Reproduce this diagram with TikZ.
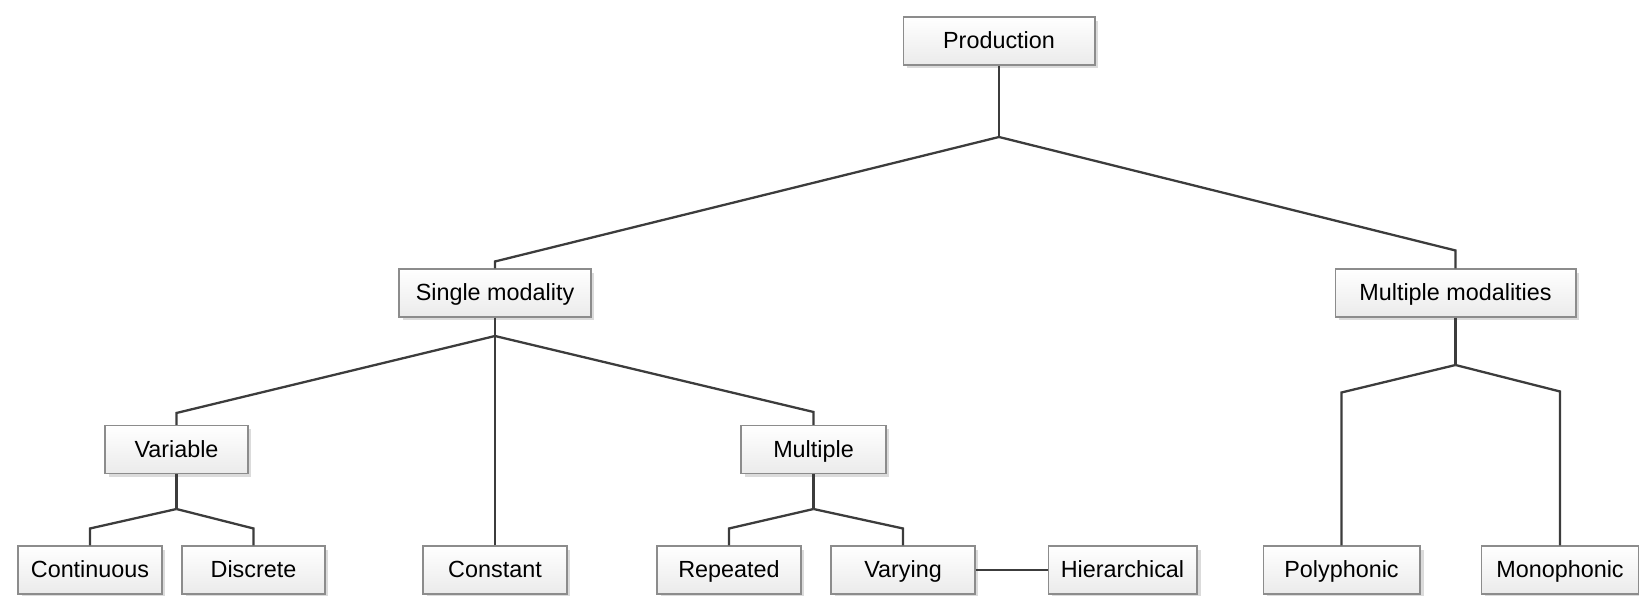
\documentclass[tikz,border=0pt]{standalone}
\usepackage{fontspec}
\setmainfont{Liberation Sans}
\usetikzlibrary{shadows}

\definecolor{linegray}{HTML}{3C3C3C}
\definecolor{edgegray}{HTML}{8C8C8C}

\tikzset{
    catbox/.style={draw=edgegray, line width=0.6pt, top color=white, bottom color=gray!16,
        minimum height=0.96cm, inner sep=0pt, text height=9.6pt, text depth=0.6pt,
        drop shadow={shadow xshift=0.07cm, shadow yshift=-0.07cm, fill=gray!28, opacity=1},
        font=\fontsize{13.3}{16}\selectfont},
    link/.style={draw=linegray, line width=1.3pt, line join=miter}
}

\begin{document}
\begin{tikzpicture}[x=0.02cm, y=-0.02cm]
    \useasboundingbox (0,0) rectangle (1639,595);

    % Boxes:
    % top level
    \node [catbox, minimum width=3.84cm] (production) at (999,41) {Production};
    % second level
    \node [catbox, minimum width=3.84cm] (single) at (495,293) {Single modality};
    \node [catbox, minimum width=4.82cm] (multimod) at (1455.5,293) {Multiple modalities};
    % third level
    \node [catbox, minimum width=2.86cm] (variable) at (176.5,449.5) {Variable};
    \node [catbox, minimum width=2.9cm] (multiple) at (813.5,449.5) {Multiple};
    % leaves
    \node [catbox, minimum width=2.88cm] (continuous) at (90,570) {Continuous};
    \node [catbox, minimum width=2.86cm] (discrete) at (253.5,570) {Discrete};
    \node [catbox, minimum width=2.88cm] (constant) at (495,570) {Constant};
    \node [catbox, minimum width=2.88cm] (repeated) at (729,570) {Repeated};
    \node [catbox, minimum width=2.88cm] (varying) at (903,570) {Varying};
    \node [catbox, minimum width=2.98cm] (hierarchical) at (1122.5,570) {Hierarchical};
    \node [catbox, minimum width=3.14cm] (polyphonic) at (1341.5,570) {Polyphonic};
    \node [catbox, minimum width=3.16cm] (monophonic) at (1560,570) {Monophonic};

    % Junctions where the branches meet:
    \coordinate (jprod) at (999,137);
    \coordinate (jsingle) at (495,336);
    \coordinate (jmultimod) at (1455.5,365);
    \coordinate (jvariable) at (176.5,509);
    \coordinate (jmultiple) at (813.5,509);

    % Connectors:
    % each branch goes up a short step from the box, then slants to its junction
    \draw [link] (production.south) -- (jprod);
    \draw [link] (single.north) -- ++(0,-7) -- (jprod);
    \draw [link] (multimod.north) -- ++(0,-18) -- (jprod);

    \draw [link] (single.south) -- (jsingle);
    \draw [link] (variable.north) -- ++(0,-12) -- (jsingle);
    \draw [link] (constant.north) -- (jsingle);
    \draw [link] (multiple.north) -- ++(0,-13) -- (jsingle);

    \draw [link] (variable.south) -- (jvariable);
    \draw [link] (continuous.north) -- ++(0,-17) -- (jvariable);
    \draw [link] (discrete.north) -- ++(0,-17) -- (jvariable);

    \draw [link] (multiple.south) -- (jmultiple);
    \draw [link] (repeated.north) -- ++(0,-17) -- (jmultiple);
    \draw [link] (varying.north) -- ++(0,-17) -- (jmultiple);
    \draw [link] (varying.east) -- (hierarchical.west);

    \draw [link] (multimod.south) -- (jmultimod);
    \draw [link] (polyphonic.north) -- ++(0,-153) -- (jmultimod);
    \draw [link] (monophonic.north) -- ++(0,-154) -- (jmultimod);
\end{tikzpicture}
\end{document}
